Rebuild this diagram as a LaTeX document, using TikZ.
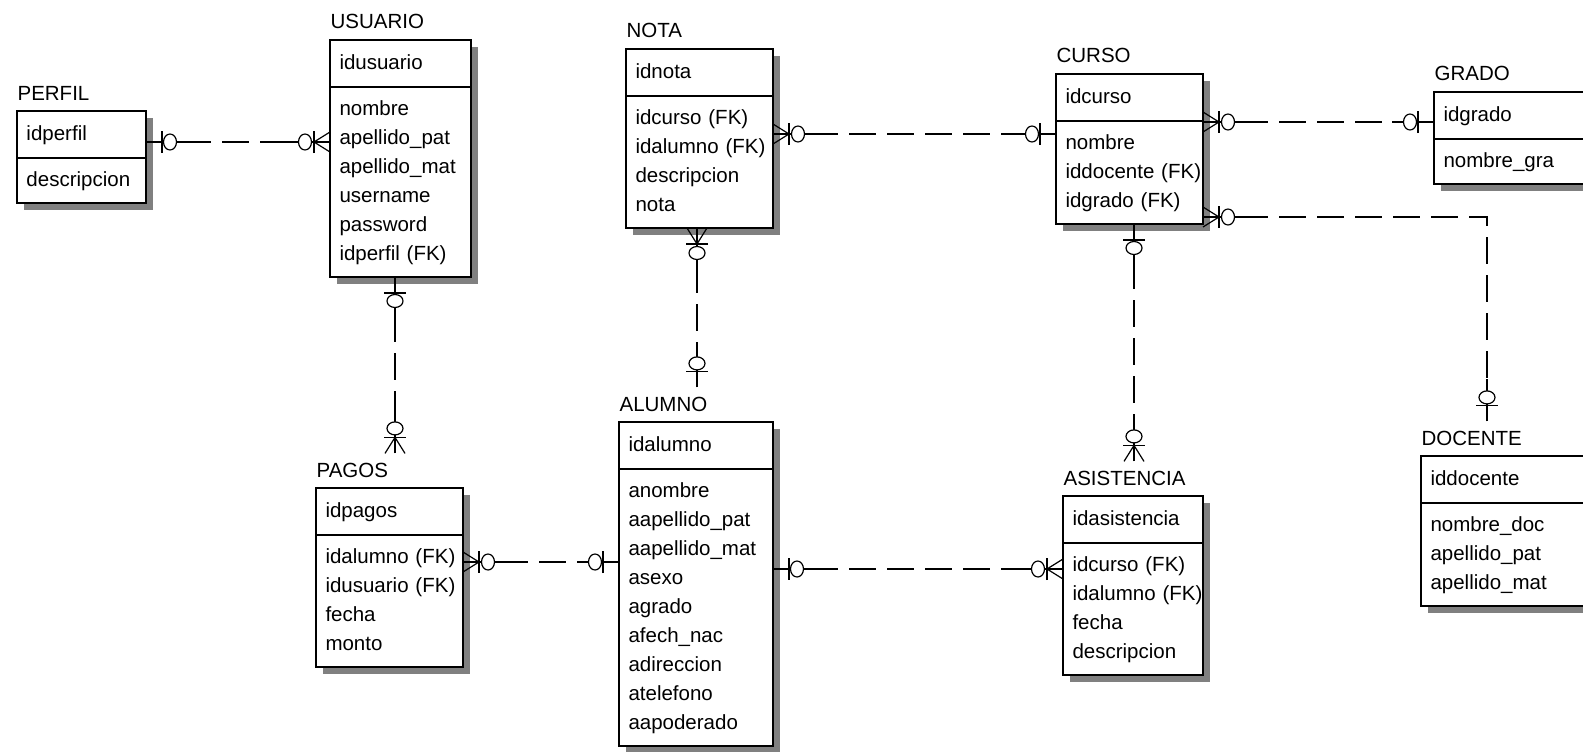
\documentclass[tikz,border=0pt]{standalone}
\usepackage{fontspec}
\setmainfont{Liberation Sans}
\usetikzlibrary{positioning, shadows}

\tikzset{
  onesym/.pic={
    \draw (0,0) -- (42,0);
    \draw (16,-11) -- (16,11);
    \draw[fill=white] (24,0) ellipse[x radius=6.5pt, y radius=8pt];
  },
  manysym/.pic={
    \draw (0,-10) -- (16,0) -- (0,10);
    \draw (0,0) -- (43,0);
    \draw (16,-11) -- (16,11);
    \draw[fill=white] (25,0) ellipse[x radius=6.5pt, y radius=8pt];
  }
}

\begin{document}
\begin{tikzpicture}[x=1pt, y=-1pt, line width=1.2pt,
    tbl/.style={draw, fill=white, align=left, text width=#1, inner xsep=9.5pt, outer sep=0pt,
      font=\fontsize{20.5}{29}\selectfont,
      execute at begin node=\strut, execute at end node=\strut,
      drop shadow={shadow xshift=7pt, shadow yshift=-7pt, fill=black!50, opacity=1}},
    key/.style={tbl=#1, inner ysep=9pt},
    attr/.style={tbl=#1, inner ysep=8pt},
    ttl/.style={font=\fontsize{20.5}{29}\selectfont, inner xsep=0pt, inner ysep=8pt,
      text height=15pt, text depth=0pt, anchor=base west},
    rel/.style={dash pattern=on 27pt off 11pt}]
  \clip (0,0) rectangle (1583,752);

  % tablas
  \node[key=110pt, anchor=north west] (perfil) at (17,111) {idperfil};
  \node[attr=110pt, below=0pt of perfil] (perfil-a) {descripcion};
  \node[ttl] (perfil-t) at ([yshift=11pt]perfil.north west) {PERFIL};

  \node[key=122pt, anchor=north west] (usuario) at (330,40) {idusuario};
  \node[attr=122pt, below=0pt of usuario] (usuario-a) {nombre\\apellido\_pat\\apellido\_mat\\username\\password\\idperfil~(FK)};
  \node[ttl] (usuario-t) at ([yshift=11pt]usuario.north west) {USUARIO};

  \node[key=128pt, anchor=north west] (nota) at (626,49) {idnota};
  \node[attr=128pt, below=0pt of nota] (nota-a) {idcurso~(FK)\\idalumno~(FK)\\descripcion\\nota};
  \node[ttl] (nota-t) at ([yshift=11pt]nota.north west) {NOTA};

  \node[key=128pt, anchor=north west] (curso) at (1056,74) {idcurso};
  \node[attr=128pt, below=0pt of curso] (curso-a) {nombre\\iddocente~(FK)\\idgrado~(FK)};
  \node[ttl] (curso-t) at ([yshift=11pt]curso.north west) {CURSO};

  \node[key=141pt, anchor=north west] (grado) at (1434,92) {idgrado};
  \node[attr=141pt, below=0pt of grado] (grado-a) {nombre\_gra};
  \node[ttl] (grado-t) at ([yshift=11pt]grado.north west) {GRADO};

  \node[key=128pt, anchor=north west] (pagos) at (316,488) {idpagos};
  \node[attr=128pt, below=0pt of pagos] (pagos-a) {idalumno~(FK)\\idusuario~(FK)\\fecha\\monto};
  \node[ttl] (pagos-t) at ([yshift=11pt]pagos.north west) {PAGOS};

  \node[key=135pt, anchor=north west] (alumno) at (619,422) {idalumno};
  \node[attr=135pt, below=0pt of alumno] (alumno-a) {anombre\\aapellido\_pat\\aapellido\_mat\\asexo\\agrado\\afech\_nac\\adireccion\\atelefono\\aapoderado};
  \node[ttl] (alumno-t) at ([yshift=11pt]alumno.north west) {ALUMNO};

  \node[key=121pt, anchor=north west] (asistencia) at (1063,496) {idasistencia};
  \node[attr=121pt, below=0pt of asistencia] (asistencia-a) {idcurso~(FK)\\idalumno~(FK)\\fecha\\descripcion};
  \node[ttl] (asistencia-t) at ([yshift=11pt]asistencia.north west) {ASISTENCIA};

  \node[key=146pt, anchor=north west] (docente) at (1421,456) {iddocente};
  \node[attr=146pt, below=0pt of docente] (docente-a) {nombre\_doc\\apellido\_pat\\apellido\_mat};
  \node[ttl] (docente-t) at ([yshift=11pt]docente.north west) {DOCENTE};

  % relaciones
  \draw[rel] (perfil.east |- 0,142) -- (usuario-a.west |- 0,142);
  \draw[rel] (usuario-a.south -| 395,0) -- (395,0 |- pagos-t.north);
  \draw[rel] (nota-a.east |- 0,134) -- (curso-a.west |- 0,134);
  \draw[rel] (nota-a.south -| 697,0) -- (697,0 |- alumno-t.north);
  \draw[rel] (curso.east |- 0,122) -- (grado.west |- 0,122);
  \draw[rel] (curso-a.east |- 0,217) -| (1487,0 |- docente-t.north);
  \draw[rel] (curso-a.south -| 1134,0) -- (1134,0 |- asistencia-t.north);
  \draw[rel] (pagos-a.east |- 0,562) -- (alumno-a.west |- 0,562);
  \draw[rel] (alumno-a.east |- 0,569) -- (asistencia-a.west |- 0,569);

  % cardinalidad
  \path (perfil.east |- 0,142) pic {onesym};
  \path (usuario-a.west |- 0,142) pic[rotate=180] {manysym};
  \path (usuario-a.south -| 395,0) pic[rotate=-90] {onesym};
  \path (395,0 |- pagos-t.north) pic[rotate=90] {manysym};
  \path (nota-a.east |- 0,134) pic {manysym};
  \path (curso-a.west |- 0,134) pic[rotate=180] {onesym};
  \path (nota-a.south -| 697,0) pic[rotate=-90] {manysym};
  \path (697,0 |- alumno-t.north) pic[rotate=90] {onesym};
  \path (curso.east |- 0,122) pic {manysym};
  \path (grado.west |- 0,122) pic[rotate=180] {onesym};
  \path (curso-a.east |- 0,217) pic {manysym};
  \path (1487,0 |- docente-t.north) pic[rotate=90] {onesym};
  \path (curso-a.south -| 1134,0) pic[rotate=-90] {onesym};
  \path (1134,0 |- asistencia-t.north) pic[rotate=90] {manysym};
  \path (pagos-a.east |- 0,562) pic {manysym};
  \path (alumno-a.west |- 0,562) pic[rotate=180] {onesym};
  \path (alumno-a.east |- 0,569) pic {onesym};
  \path (asistencia-a.west |- 0,569) pic[rotate=180] {manysym};
\end{tikzpicture}
\end{document}
